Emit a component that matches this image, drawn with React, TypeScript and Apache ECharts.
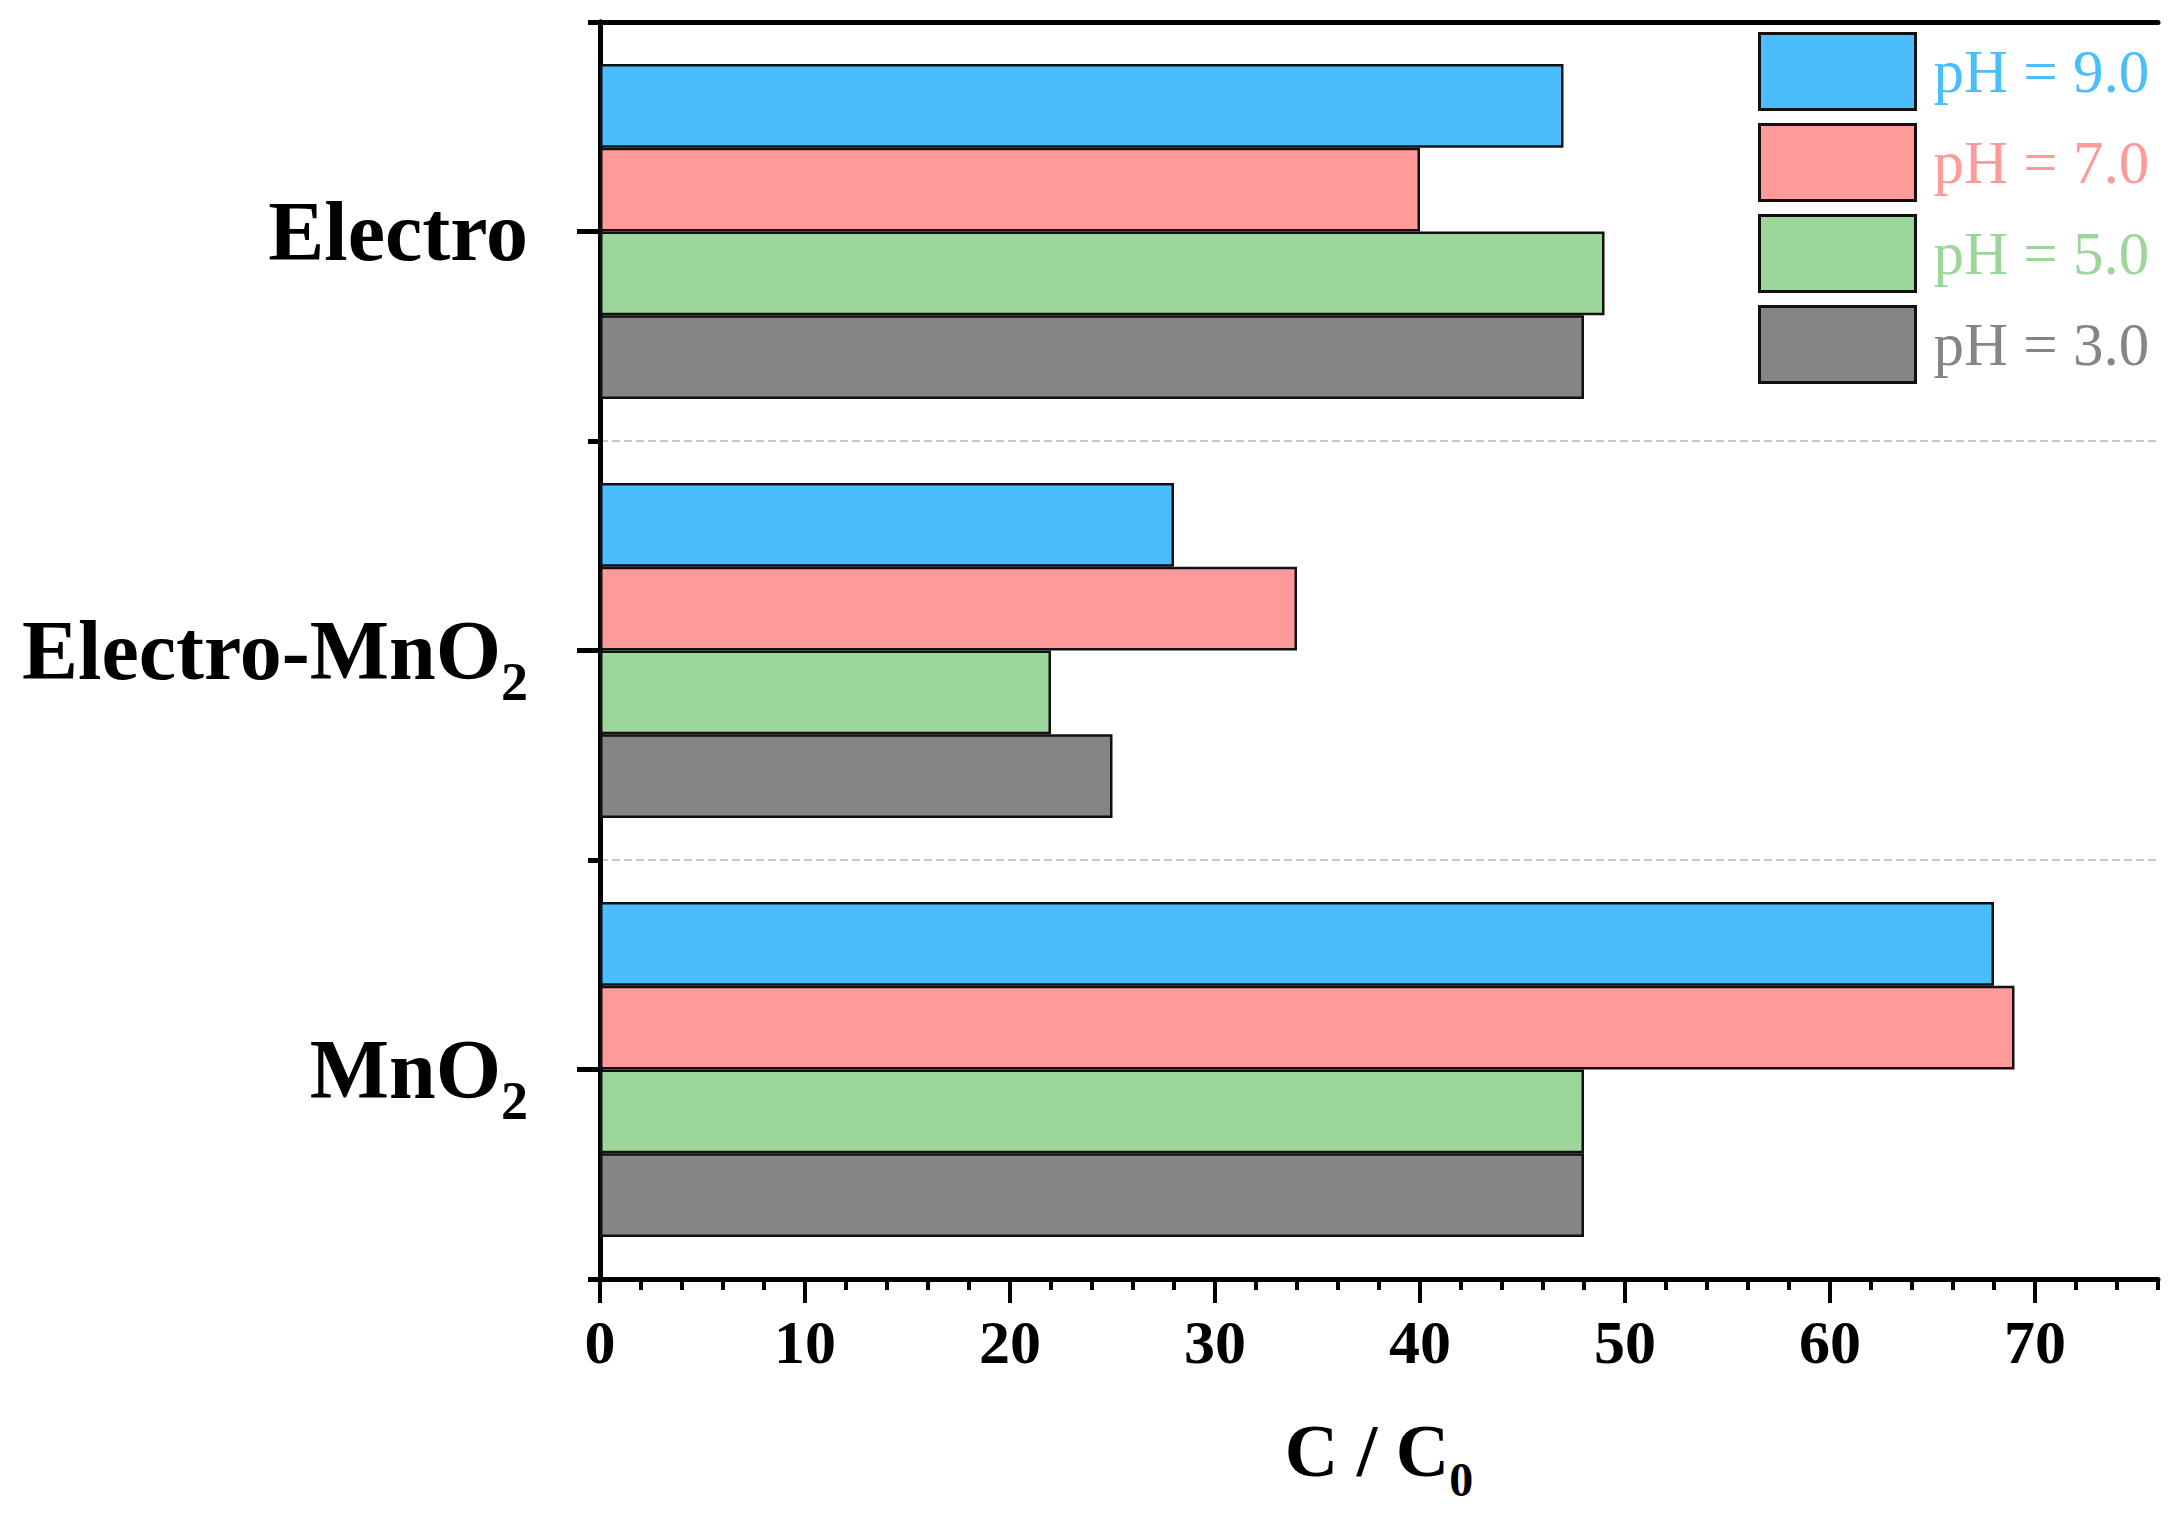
import { useEffect, useRef } from 'react';
import * as echarts from 'echarts';

const categories = ['Electro', 'Electro-MnO2', 'MnO2'];
const seriesNames = ['pH = 9.0', 'pH = 7.0', 'pH = 5.0', 'pH = 3.0'];
const seriesColors = ['#4ABDFC', '#FF9A9A', '#9CD69A', '#858585'];

const ph9 = [47, 28, 68];
const ph7 = [40, 34, 69];
const ph5 = [49, 22, 48];
const ph3 = [48, 25, 48];
const seriesValues = [ph9, ph7, ph5, ph3];

const xTicks = [0, 10, 20, 30, 40, 50, 60, 70];
const xMinorTicks = [
  2, 4, 6, 8, 12, 14, 16, 18, 22, 24, 26, 28, 32, 34, 36, 38, 42, 44, 46, 48,
  52, 54, 56, 58, 62, 64, 66, 68, 72, 74, 76,
];

const FONT = '"Liberation Serif", "DejaVu Serif", serif';
const AXIS_W = 5;

export default function App() {
  const chartRef = useRef<HTMLDivElement>(null);

  useEffect(() => {
    if (!chartRef.current) return;
    document.body.style.margin = '0';
    const chart = echarts.init(chartRef.current, null, { renderer: 'svg' });

    // MnO2 -> MnO with subscript 2
    const subLabel = (v: string) => v.replace('MnO2', 'MnO{sub|2}');

    chart.setOption({
      animation: false,
      backgroundColor: '#ffffff',
      grid: { left: 600, right: 21, top: 22, bottom: 238, containLabel: false },
      legend: {
        orient: 'vertical',
        left: 1758,
        top: 32,
        padding: 0,
        itemWidth: 156,
        itemHeight: 76,
        itemGap: 12,
        icon: 'rect',
        itemStyle: { borderWidth: 3, borderColor: '#111' },
        textStyle: { fontFamily: FONT, fontSize: 61, padding: [0, 0, 0, 13] },
        data: seriesNames.map((name, i) => ({
          name,
          textStyle: { color: seriesColors[i] },
        })),
      },
      xAxis: [
        {
          type: 'value',
          min: 0,
          max: 76,
          position: 'bottom',
          axisLine: { show: true, lineStyle: { color: '#000', width: AXIS_W } },
          axisTick: {
            show: true,
            length: 24,
            lineStyle: { color: '#000', width: 4 },
            customValues: xTicks,
          },
          axisLabel: {
            customValues: xTicks,
            color: '#000',
            fontFamily: FONT,
            fontWeight: 'bold',
            fontSize: 62,
            margin: 32,
          },
          splitLine: { show: false },
          name: 'C / C{sub|0}',
          nameLocation: 'middle',
          nameGap: 120,
          nameTextStyle: {
            color: '#000',
            fontFamily: FONT,
            fontWeight: 'bold',
            fontSize: 74,
            rich: {
              sub: {
                fontFamily: FONT,
                fontWeight: 'bold',
                fontSize: 48,
                color: '#000',
                verticalAlign: 'bottom',
                lineHeight: 104,
              },
            },
          },
        },
        {
          type: 'value',
          min: 0,
          max: 76,
          position: 'bottom',
          axisLine: { show: false },
          axisTick: {
            show: true,
            length: 11,
            lineStyle: { color: '#000', width: 4 },
            customValues: xMinorTicks,
          },
          axisLabel: { show: false },
          splitLine: { show: false },
        },
        {
          type: 'value',
          min: 0,
          max: 76,
          position: 'top',
          axisLine: { show: true, lineStyle: { color: '#000', width: AXIS_W } },
          axisTick: { show: false },
          axisLabel: { show: false },
          splitLine: { show: false },
        },
      ],
      yAxis: [
        {
          type: 'category',
          data: categories,
          inverse: true,
          position: 'left',
          axisLine: { show: true, lineStyle: { color: '#000', width: AXIS_W } },
          axisTick: {
            show: true,
            alignWithLabel: true,
            length: 23,
            lineStyle: { color: '#000', width: 5 },
          },
          axisLabel: {
            color: '#000',
            fontFamily: FONT,
            fontWeight: 'bold',
            fontSize: 84,
            margin: 72,
            formatter: subLabel,
            rich: {
              sub: {
                fontFamily: FONT,
                fontWeight: 'bold',
                fontSize: 54,
                color: '#000',
                verticalAlign: 'bottom',
                lineHeight: 116,
              },
            },
          },
          splitLine: { show: false },
        },
        {
          type: 'category',
          data: categories,
          inverse: true,
          position: 'left',
          axisLine: { show: false },
          axisTick: {
            show: true,
            length: 12,
            lineStyle: { color: '#000', width: 5 },
          },
          axisLabel: { show: false },
          splitLine: {
            show: true,
            lineStyle: { color: '#c8c8c8', type: 'dashed', width: 2 },
          },
        },
        {
          type: 'category',
          data: categories,
          inverse: true,
          position: 'right',
          axisLine: { show: true, lineStyle: { color: '#000', width: AXIS_W } },
          axisTick: { show: false },
          axisLabel: { show: false },
          splitLine: { show: false },
        },
      ],
      series: seriesNames.map((name, i) => ({
        name,
        type: 'bar',
        xAxisIndex: 0,
        yAxisIndex: 0,
        data: seriesValues[i],
        barCategoryGap: '20%',
        barGap: '0%',
        itemStyle: { color: seriesColors[i], borderColor: '#111', borderWidth: 2.5 },
      })),
    });

    return () => {
      chart.dispose();
    };
  }, []);

  return <div ref={chartRef} style={{ width: 2179, height: 1517 }} />;
}
